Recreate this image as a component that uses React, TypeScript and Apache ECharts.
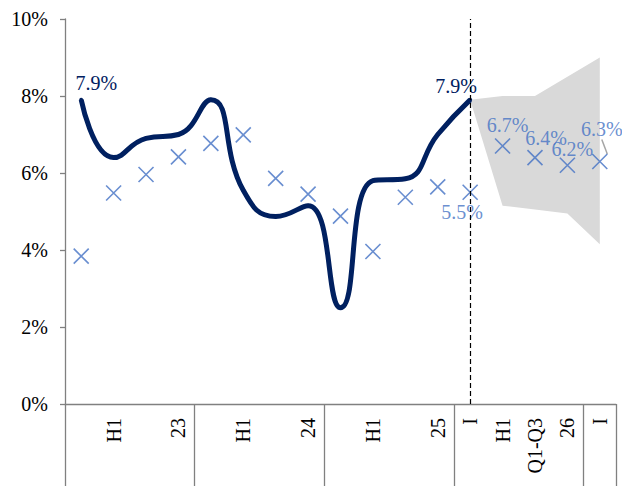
import React, { useEffect, useRef } from 'react';
import * as echarts from 'echarts';

const categories = [
  '2023Q1', '2023Q2', '2023Q3', '2023Q4',
  '2024Q1', '2024Q2', '2024Q3', '2024Q4',
  '2025Q1', '2025Q2', '2025Q3', '2025Q4',
  '2026Q1', '2026Q2', '2026Q3', '2026Q4',
  '2027Q1',
];
const tickLabels = ['', 'H1', '', '23', '', 'H1', '', '24', '', 'H1', '', '25', 'I', 'H1', 'Q1-Q3', '26', 'I'];
const actualValues = [7.9, 6.4, 6.9, 7.0, 7.9, 5.55, 4.87, 5.15, 2.5, 5.8, 5.85, 7.0, 7.9];
const surveyValues = [3.84, 5.48, 5.96, 6.42, 6.77, 6.99, 5.86, 5.45, 4.88, 3.96, 5.37, 5.64, 5.5, 6.7, 6.4, 6.2, 6.3];
const bandLow: (number | null)[] = [null, null, null, null, null, null, null, null, null, null, null, null, 7.9, 5.15, 5.05, 4.95, 4.15];
const bandHigh: (number | null)[] = [null, null, null, null, null, null, null, null, null, null, null, null, 7.9, 8.0, 8.0, 8.5, 9.0];
const yMin = 0;
const yMax = 10;
const yStep = 2;

const FONT = 'Liberation Serif';
const NAVY = '#002060';
const BLUE = '#4472C4';
const AXIS = '#808080';

const actualLabelIdx = [0, 12];
const actualLabelShift: Record<number, number[]> = { 0: [15, 0], 12: [-14, 3] };
const surveyLabelIdx = [12, 13, 14, 15, 16];
const surveyLabelPos: Record<number, string> = { 12: 'bottom', 13: 'top', 14: 'top', 15: 'top', 16: 'top' };
const surveyLabelShift: Record<number, number[]> = {
  12: [-8, -3],
  13: [5, 2],
  14: [11, 3],
  15: [5, 7],
  16: [2, -9],
};

export default function App() {
  const ref = useRef<HTMLDivElement>(null);
  useEffect(() => {
    if (!ref.current) return;
    const chart = echarts.init(ref.current, undefined, { renderer: 'svg' });
    const fmt = (p: any) => Number(p.value).toFixed(1) + '%';
    const option: any = {
      animation: false,
      grid: { left: 65, right: 6, top: 19, bottom: 82, containLabel: false },
      xAxis: {
        type: 'category',
        data: categories,
        boundaryGap: true,
        axisLine: { show: true, lineStyle: { color: AXIS, width: 1.3 } },
        axisTick: {
          show: true,
          length: 90,
          interval: (i: number) => i % 4 === 0,
          lineStyle: { color: AXIS, width: 1.3 },
        },
        axisLabel: {
          interval: 0,
          rotate: 90,
          margin: 14,
          fontFamily: FONT,
          fontSize: 20,
          color: '#000',
          formatter: (_v: string, i: number) => tickLabels[i],
        },
        splitLine: { show: false },
      },
      yAxis: {
        type: 'value',
        min: yMin,
        max: yMax,
        interval: yStep,
        axisLine: { show: true, lineStyle: { color: AXIS, width: 1.3 } },
        axisTick: { show: true, length: 5, lineStyle: { color: AXIS, width: 1.3 } },
        axisLabel: {
          margin: 17,
          fontFamily: FONT,
          fontSize: 20,
          color: '#000',
          formatter: (v: number) => v + '%',
        },
        splitLine: { show: false },
      },
      series: [
        {
          type: 'line',
          stack: 'band',
          data: bandLow,
          symbol: 'none',
          lineStyle: { opacity: 0 },
          silent: true,
        },
        {
          type: 'line',
          stack: 'band',
          data: bandHigh.map((h, i) => (h == null || bandLow[i] == null ? null : +(h - (bandLow[i] as number)).toFixed(3))),
          symbol: 'none',
          lineStyle: { opacity: 0 },
          areaStyle: { color: '#D9D9D9', opacity: 1 },
          silent: true,
        },
        {
          type: 'line',
          data: actualValues.map((v, i) =>
            actualLabelIdx.includes(i)
              ? {
                  value: v,
                  label: {
                    show: true,
                    position: 'top',
                    distance: 5,
                    formatter: fmt,
                    fontFamily: FONT,
                    fontSize: 20,
                    color: NAVY,
                  },
                }
              : v
          ),
          labelLayout: (p: any) => {
            const s = actualLabelShift[p.dataIndex];
            return s ? { dx: s[0], dy: s[1] } : {};
          },
          smooth: 0.5,
          symbol: 'circle',
          symbolSize: 4,
          itemStyle: { color: NAVY },
          lineStyle: { color: NAVY, width: 5 },
          z: 3,
          markLine: {
            silent: true,
            symbol: ['none', 'none'],
            label: { show: false },
            lineStyle: { color: '#000', type: [5, 3], width: 1.2 },
            data: [{ xAxis: categories[12] }],
          },
        },
        {
          type: 'scatter',
          data: surveyValues.map((v, i) =>
            surveyLabelIdx.includes(i)
              ? {
                  value: v,
                  label: {
                    show: true,
                    position: surveyLabelPos[i],
                    distance: 3,
                    formatter: fmt,
                    fontFamily: FONT,
                    fontSize: 20,
                    color: BLUE,
                  },
                  labelLine:
                    i === 16
                      ? { show: true, smooth: false, length2: 0, lineStyle: { color: '#A6A6A6', width: 1.5 } }
                      : { show: false },
                }
              : v
          ),
          labelLayout: (p: any) => {
            const s = surveyLabelShift[p.dataIndex];
            return s ? { dx: s[0], dy: s[1] } : {};
          },
          symbol: 'path://M0,0L10,10M10,0L0,10',
          symbolSize: 15,
          itemStyle: { color: 'none', borderColor: BLUE, borderWidth: 1.6 },
          z: 4,
        },
      ],
    };
    chart.setOption(option);
    return () => chart.dispose();
  }, []);
  return <div ref={ref} style={{ position: 'absolute', left: 0, top: 0, width: 622, height: 486 }} />;
}
